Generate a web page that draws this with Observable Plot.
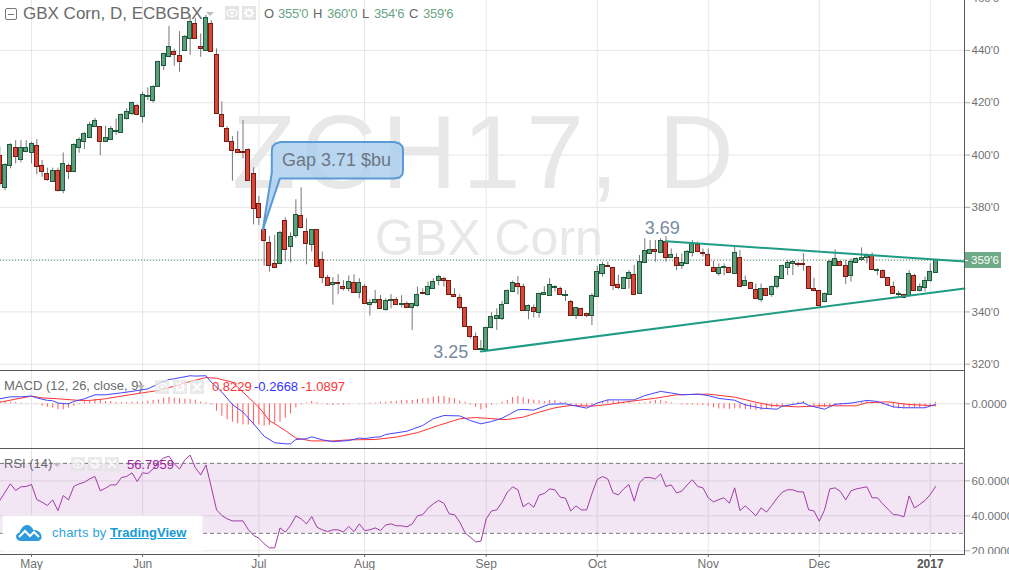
<!DOCTYPE html>
<html><head><meta charset="utf-8">
<script src="https://cdn.jsdelivr.net/npm/d3@7"></script>
<script src="https://cdn.jsdelivr.net/npm/@observablehq/plot@0.6"></script>
<style>
html,body{margin:0;padding:0;background:#fff;overflow:hidden}
#page{position:relative;width:1009px;height:570px;overflow:hidden;font-family:"Liberation Sans",Arial,sans-serif;color:#6a6a6a}
.abs{position:absolute;white-space:pre;line-height:1}
.panel{position:absolute;left:0}
.panel svg{display:block;overflow:hidden}
.line{position:absolute;background:#585858}
.ico{position:absolute;width:14px;height:14px;background:#e4e4e4}
.ico svg{position:absolute;left:0;top:0}
</style></head><body>
<div id="page"></div>
<script>
const opens=[399.8,387.3,395.7,402.7,398.2,401.1,400.8,403.5,395.9,392.8,389.7,393.9,386.4,395.9,393.4,402.7,405,406.6,410.8,410.8,405,405.8,409,408.5,413.8,415.7,418.8,414.6,422.3,420.7,426.1,434.1,437.6,439.5,437.9,439.8,444.4,450.2,441.4,439.8,450.2,438.3,415.4,410,405,402,401.2,402,392.8,381.4,371.4,366.5,358.4,358.4,374.9,364.9,369.1,376.8,370.7,365.7,371.4,359.7,353.1,350.4,351.1,349.6,348.9,351.2,347.3,349.6,342.7,343.5,344.7,340.7,344.1,344.7,342.8,343.1,341.6,342.4,347.4,346.6,348.8,351.9,352.7,351.9,346.6,345.4,341.6,334.3,330.5,325.5,325.3,333.9,337.4,337.4,343.1,347.7,350.7,349.6,340.4,341.6,339.7,346.5,346.2,349.2,348.8,346.1,343.9,338.5,341.2,339.3,338.5,345.8,354.6,357.6,356.9,350.4,348.8,352.7,354.2,346.9,358.8,362.2,363.5,362.6,366.8,360.7,360.7,357.6,358.4,362.6,365.7,362.7,361.8,356.9,354.6,356.7,356.9,354.6,360.7,350,351.1,348.5,344.6,348.8,346.5,349.6,352.7,356.9,358.4,358.4,358.4,357.2,348.8,348.1,343.7,346.5,357.6,359.2,357.6,353.8,358.8,359.7,360.7,361.4,355.7,355.7,353,349.6,346.5,346.5,346.2,353.8,348.1,349.2,351.9,355];
const highs=[403,396.6,404.3,405.5,405.5,405.5,404.9,405.9,397.9,395,395,395,400.8,396.6,404.3,406.6,408.6,412.6,414,410.9,410.9,410.9,413.8,415.7,417.7,420.2,419.3,424,425.7,426.5,435.9,439,449.2,440.4,447.2,445.7,453.4,452.1,446.3,453.4,451.4,440.6,420.3,410.8,407.1,409,413.2,402.4,395.1,384.2,372.2,368.8,369.3,370.8,376,370.3,382.9,387.5,375.6,371.5,371.5,362.9,354,353.1,354.2,352,353.8,354.2,352.7,350.5,344.7,348.2,346.3,345,346.6,345.4,346.2,343.8,343.3,349.5,348.8,351.4,352.7,354,353.3,352,348.8,346.6,341.8,334.4,331.9,329.1,334.2,339.7,341.2,344,348.4,351.8,353.6,350.7,342.7,342.7,347.2,349.7,352.7,350.1,349.5,348.2,344.4,341.8,341.4,339.5,347,357.4,359,359,357.1,354,353.3,355.8,357.8,361.6,368,367.3,367.3,368,368.8,364.1,362.2,362.2,363.5,367.3,366.7,364.1,364.1,359.4,358.4,358.4,357.1,364.8,363.5,353.7,351.4,350.7,350.7,349.1,349.9,353.7,357.9,359.7,359.4,359,362.3,357.5,352.9,348.3,347.2,359.7,363.7,359.4,359.7,360.3,360.7,364.5,362.2,362.6,356.5,356.1,353.3,351.4,347.9,346.8,355.8,354.4,350.7,353.3,358.4,360];
const lows=[387.7,386.4,394.7,396.6,397,400.8,396.6,392.5,391.5,390,389.5,385.8,385.2,390.6,393.2,400.7,402.1,406.3,410.6,399.8,404.8,405.5,407.5,408.2,413.4,415.1,415,412.2,420.8,419.8,426,432.3,437.2,434,431.7,439.6,438.1,444.3,437.4,439.6,439.3,415.5,410.5,404.8,390,400.7,398.5,389.9,373.3,373.1,357.5,355.2,356.5,358,359.1,358.8,368.2,371.8,358,362.9,357,350.8,349.7,342.6,346.6,348,347.6,347,345,343,338.4,343.1,341,340.3,341.2,342.4,341.5,341.3,332.9,341.8,346.6,346.1,348.6,349.9,349.5,346.3,345.6,340.8,334.2,329.7,325.4,325.1,325.1,333.5,332.9,336.7,342.8,347.4,346.5,340.2,337,337.7,337.6,346.3,345.9,347.6,346.3,344,338.3,337.1,338.2,337.7,334.8,345.5,353.3,357,348.2,348.6,348.6,348.7,346.3,346.7,358.5,362,359,362.3,359,360.4,355.8,356.2,358.1,361,362.6,361,357.4,355.1,353.7,353.9,354.7,354.3,349.4,349.7,348.6,344.8,343.7,345.9,345.6,348.8,352.4,353.9,353.9,357.1,355.6,348.6,347.7,342.1,343.5,346.3,357.4,357.4,350.4,351.4,358.5,359.4,358.4,355.8,353.9,352.8,349.7,346.7,345.4,345.1,345.9,347.8,347.6,347.6,351.4,354.75];
const closes=[389,396.2,403.9,399.2,402.7,402.7,404.3,395.3,393.4,390.4,393.9,386.3,396.6,393.4,403.9,405.8,408.1,411.5,413.1,405,406.6,410,409.3,415.4,416.5,420,415.4,423,422.6,426.1,435.6,438.7,441.4,438.3,435.6,445.2,450.9,444.4,440.6,452.5,439.5,415.7,410.8,405,401.6,400.8,400.8,390.2,379.5,376,367.2,357.7,356.9,370.3,363.8,368.7,377.2,372.2,366.1,371.4,357.3,353.1,350,351,350.8,348.9,351.5,347.3,351.2,343.1,343.5,344.7,341.2,344.3,344.5,342.7,343.2,341.6,343.1,346.6,346.9,349.6,351.5,353.4,351.9,346.6,345.8,341.6,334.3,330.5,325.5,325.9,333.9,338.2,338.5,342.7,348.1,351.1,349.6,340.4,342.3,340,346.9,347.3,350.4,349.6,346.5,346.3,338.5,341.6,338.5,338.5,346.2,355.3,358,357.2,350,349.2,353,355,346.5,359.2,363.4,363.7,363.1,367.2,360.7,361.8,357.6,358.8,363,366,363,362.3,357.6,355.3,356.9,357.2,355,362.6,349.6,351.9,348.8,345,348.8,346.2,349.6,353.4,357.6,358.8,359,358,358,348.8,348,342.3,346.9,359.2,360.3,357.6,353.4,359.2,360.3,360.7,361.8,356.1,356.2,353,350,346.9,346.8,345.4,354.6,348.1,349.6,351.9,355.3,359.75];

const macdIdx=[0,2,4,6,7,9,10,11,13,14,16,18,20,23,25,28,30,32,33,36,37,39,40,42,44,46,48,50,52,54,55,56,58,59,61,63,66,68,69,71,72,73,77,80,82,84,87,89,91,93,95,98,99,101,104,107,111,113,115,117,120,122,125,127,129,132,134,136,139,141,144,147,148,152,153,156,158,161,164,166,169,171,175,177];
const macdVal=[2.8,3.9,3.9,4.3,3.3,1.9,1.7,0.4,0,1.3,2.8,5,5,6.1,6.9,8.3,11.1,13.5,13.9,15.6,15.4,15.6,12,6.5,-0.4,-4.6,-11.1,-18,-21.6,-22.2,-22.2,-19.8,-19.4,-18.3,-20,-21,-20.4,-19,-19.3,-18.5,-18.3,-17,-15.2,-12,-8.3,-6.5,-6.7,-9.3,-11.1,-9.8,-8,-3.3,-3.1,-3.5,-0.2,0,-2.4,0.4,2.2,2.2,2.2,4.6,6.9,6,5,5.4,4.6,3,2,-0.6,-2.4,-3,-1.3,0.6,-0.9,-3,-0.2,0.4,1.9,1.3,-1.7,-2.2,-2.2,-0.2668];
const signalIdx=[0,6,8,11,15,17,20,23,27,30,33,36,39,41,44,46,49,51,54,56,59,63,66,71,75,79,83,87,90,92,95,96,99,102,105,108,112,115,119,124,128,134,139,143,146,151,155,162,164,168,172,177];
const signalVal=[0.9,4.3,3.3,2.8,1.9,1.9,2.8,4.3,6.1,7.4,9.8,12.4,14.6,14.2,12,6.5,-1.9,-9.3,-14.8,-19,-20.6,-20.6,-20,-19.8,-18.5,-16,-12,-8.3,-7.6,-8,-8.7,-8.7,-7.4,-4.6,-2.2,-0.9,-1.3,-0.4,1.3,3.1,5,5.4,3.7,0.9,-0.9,-1.7,-1.1,-1.1,0.6,1.1,-0.4,-1.0897];
const histVal=[1.3,1.1,0.9,0.6,0.4,0.2,0,-0.2,-1.3,-1.9,-2.4,-3.3,-3.3,-2.4,-1.3,-0.4,1.1,1.3,2.2,1.9,1.3,1.3,0.7,0.7,0.7,0.9,0.9,0.9,1.5,1.9,2.2,3.1,3.5,3.1,2.8,2.6,2.4,2,0.9,0.6,-0.6,-4.1,-6.9,-8.9,-10.2,-11.1,-11.7,-11.7,-11.7,-11.7,-12.4,-12,-11.1,-10.2,-8,-5.6,-2.2,-0.6,0.4,1.3,0.7,0.2,-0.6,-0.9,-0.7,-0.6,-0.4,0,0.2,0.2,0.4,0.4,0.9,0.9,1.3,1.3,1.7,1.9,1.9,2.4,2.8,3.1,3.7,4.1,4.1,3.3,2.8,1.5,0.9,-0.6,-1.9,-3.3,-2.4,-0.7,-0.2,0.9,1.9,3.5,4.1,3.3,2.4,2,1.7,1.3,1.9,1.7,0.9,0.6,-0.6,-1.3,-1.3,-1.7,-0.9,0.4,1.3,1.9,1.5,1.5,0.9,1.3,0.4,0.4,0.6,1.3,1.9,1.9,1.3,0.6,0,-0.6,-0.7,-0.7,-0.7,-0.9,-1.3,-2.2,-2.8,-2.8,-3.1,-2.8,-2.8,-3.3,-3.3,-3.7,-3.7,-2.8,-2.2,-1.9,-1.3,-0.2,0.6,0.9,1.3,0,-1.3,-2.2,-1.9,-1.9,-0.9,-0.6,-0.2,-0.2,-0.2,0.9,1.3,0.9,0.4,-0.6,-1.3,-2.4,-2.8,-2.8,-2.4,-2.2,-2.2,-1.9,-0.9,0.8229];
const rsiVal=[48.8,53.5,58.3,54.5,56.6,56.8,57.9,49.3,47.8,45.9,49.1,43,51.6,49.1,56.8,58.3,59.2,61.1,62.5,54.3,55.8,57.7,57.7,61.9,62.5,64.6,59.6,64.6,64.2,66.8,70.7,73.1,74.1,69.7,66.8,72,74.7,67.4,63.4,69.1,56.4,43.4,40.2,38.3,37.1,37.1,37.1,32.2,28.8,27.2,24,21.7,21.7,33.1,30.7,34.5,40,38.3,35.4,39.6,33.5,32,31,32,32,30.8,33.9,31,35.4,31.6,32,33.1,31.6,34.8,35.4,34.3,34.3,33.7,35.4,40,40.7,44.4,46.9,48.8,47.2,41.1,40.7,36.4,30.3,27.8,25.1,25.5,38.3,42.8,43.4,47.8,53.5,56.6,54.9,45.1,47.4,44.9,51.8,52.8,55.4,54.9,50.7,50.1,42.8,45.7,43.4,43.4,52.6,60.8,62.5,61.1,53.1,52,55.4,57.9,48.4,58.9,61.9,61.9,61.1,64,56.8,57.7,53.1,54.1,57.7,60.6,56.8,56,50.3,48,49.3,50.3,47.2,56,43,45.7,43,40,44.6,42.1,45.9,50.1,53.5,54.9,54.9,53.7,53.7,43.4,42.8,36.9,43.4,55.4,56,53.9,49.1,54.3,55.4,56,56.6,50.3,50.3,46.9,43.8,40.7,40.5,39.4,51.4,44.5,46.5,48.8,52.2,56.7959];

const monthIdx=[6,27,49,69,92,113,134,155];
const monthLabels=["May","Jun","Jul","Aug","Sep","Oct","Nov","Dec"];
const yearIdx=[176];
const yearLabels=["2017"];
const priceGrid=[320,340,360,380,400,420,440,460];
const priceTicks=[320,340,380,400,420,440,460];
const priceTickLabels=["320'0","340'0","380'0","400'0","420'0","440'0","460'0"];
const lastPrice=359.75;
const lowerTrendIdx=[91,182.47], lowerTrendPrice=[324.9,349];
const upperTrendIdx=[126,182.47], upperTrendPrice=[367,359.3];
const calloutIdx=[49.74,51.45,51.45,51.58,52.15,53.09,74.65,75.6,76.17,76.26,76.26,76.17,75.6,74.65,52.96,49.74];
const calloutPrice=[371.4,393.3,401.7,403.3,404.4,405,405,404.4,403.3,401.7,394.1,392.6,391.4,391,391,371.4];
const noteIdx=[85.3,125.3,63.7];
const notePrice=[324.5,371.9,398];
const noteText=["3.25","3.69","Gap 3.71 $bu"];

const xDomain=[0.132,182.47];
const W=1009, MR=45;
const page=document.getElementById("page");
const UP="#5f9e7d",UPB="#1c5a3a",DN="#d6493a",DNB="#7a1a12",GRID="#e6e6e6",TICK="#707070";
const rows=opens.map((o,i)=>({i,o,h:highs[i],l:lows[i],c:closes[i],up:closes[i]>=o}));
const base=(height,yDomain,marks)=>Plot.plot({width:W,height,marginLeft:0,marginRight:MR,marginTop:0,marginBottom:0,
  style:{background:"transparent",fontFamily:'"Liberation Sans",Arial,sans-serif',overflow:"hidden"},
  x:{domain:xDomain,range:[0,W-MR],axis:null},
  y:{domain:yDomain,range:[height,0],axis:null},marks});
const mount=(svg,top)=>{const d=document.createElement("div");d.className="panel";d.style.top=top+"px";d.appendChild(svg);page.appendChild(d)};
const div=(cls,css,txt)=>{const d=document.createElement("div");d.className=cls;d.style.cssText=css;if(txt!=null)d.textContent=txt;page.appendChild(d);return d};
const yAxis=(ticks,fmt)=>Plot.axisY(ticks,{anchor:"right",label:null,tickSize:5,tickPadding:2,tickFormat:fmt,fontSize:11.5,color:TICK,strokeOpacity:.6});

// watermark behind everything
div("abs","left:232px;top:100px;font-size:104px;letter-spacing:5.6px;color:#e8e8e8","ZCH17, D");
div("abs","left:375px;top:213px;font-size:50px;color:#e8e8e8","GBX Corn");

// main panel
mount(base(370,[317.6,459.1],[
  Plot.gridX(monthIdx.concat(yearIdx),{stroke:GRID,strokeOpacity:1}),
  Plot.gridY(priceGrid,{stroke:GRID,strokeOpacity:1}),
  Plot.ruleY([lastPrice],{stroke:"#3f8a63",strokeOpacity:.85,strokeDasharray:"1,2",strokeWidth:1}),
  Plot.ruleX(rows,{x:"i",y1:"l",y2:"h",stroke:"#777",strokeWidth:1}),
  Plot.rect(rows,{x1:d=>d.i-.38,x2:d=>d.i+.38,y1:d=>Math.min(d.o,d.c),y2:d=>Math.max(d.o,d.c),
    fill:d=>d.up?UP:DN,stroke:d=>d.up?UPB:DNB,strokeWidth:1,shapeRendering:"crispEdges"}),
  Plot.line(lowerTrendIdx.map((x,k)=>[x,lowerTrendPrice[k]]),{x:"0",y:"1",stroke:"#1f9c85",strokeWidth:2}),
  Plot.line(upperTrendIdx.map((x,k)=>[x,upperTrendPrice[k]]),{x:"0",y:"1",stroke:"#1f9c85",strokeWidth:2}),
  Plot.line(calloutIdx.map((x,k)=>[x,calloutPrice[k]]),{x:"0",y:"1",stroke:"#5a9ad6",strokeWidth:2,fill:"#a9cdee",fillOpacity:.8,curve:"linear"}),
  Plot.text([0,1],{x:k=>noteIdx[k],y:k=>notePrice[k],text:k=>noteText[k],fontSize:18,fill:"#788a9e"}),
  Plot.text([2],{x:k=>noteIdx[k],y:k=>notePrice[k],text:k=>noteText[k],fontSize:18,fill:"#6d7680"}),
  yAxis(priceTicks,(d)=>priceTickLabels[priceTicks.indexOf(d)])
]),0);

// MACD panel
const hist=histVal.map((v,i)=>({i,v}));
mount(base(78,[-24.8,18.5],[
  Plot.gridX(monthIdx.concat(yearIdx),{stroke:GRID,strokeOpacity:1}),
  Plot.gridY([0],{stroke:GRID,strokeOpacity:1}),
  Plot.ruleX(hist,{x:"i",y1:0,y2:"v",stroke:"#ff5a5a",strokeWidth:1}),
  Plot.line(signalIdx.map((x,k)=>[x,signalVal[k]]),{x:"0",y:"1",stroke:"#f33",strokeWidth:1}),
  Plot.line(macdIdx.map((x,k)=>[x,macdVal[k]]),{x:"0",y:"1",stroke:"#44f",strokeWidth:1}),
  yAxis([0],d=>"0.0000")
]),370);

// RSI panel
const rsiGrid=[20,40,60];
mount(base(106,[17.9,78.5],[
  Plot.gridX(monthIdx.concat(yearIdx),{stroke:GRID,strokeOpacity:1}),
  Plot.gridY(rsiGrid,{stroke:GRID,strokeOpacity:1}),
  Plot.rect([0],{x1:xDomain[0],x2:xDomain[1],y1:30,y2:70,fill:"#9b3bb0",fillOpacity:.13}),
  Plot.ruleY([30,70],{stroke:"#777",strokeDasharray:"4,3",strokeWidth:1}),
  Plot.line(rsiVal.map((v,i)=>[i,v]),{x:"0",y:"1",stroke:"#a23aa6",strokeWidth:1}),
  yAxis(rsiGrid,d=>d+".0000")
]),448);

// time axis
mount(Plot.plot({width:W,height:16,marginLeft:0,marginRight:MR,marginTop:0,marginBottom:16,
  style:{background:"transparent",fontFamily:'"Liberation Sans",Arial,sans-serif',overflow:"hidden"},
  x:{domain:xDomain,range:[0,W-MR],axis:null},y:{axis:null},
  marks:[
    Plot.axisX(monthIdx,{anchor:"bottom",label:null,tickSize:3,tickPadding:2,fontSize:12,color:TICK,tickFormat:d=>monthLabels[monthIdx.indexOf(d)]}),
    Plot.axisX(yearIdx,{anchor:"bottom",label:null,tickSize:3,tickPadding:2,fontSize:12,color:"#555",fontWeight:"bold",tickFormat:d=>yearLabels[yearIdx.indexOf(d)]})
  ]}),554);
page.lastChild.querySelector("svg").style.overflow="visible";

// frame lines
div("line","left:0;top:370px;width:964px;height:1px");
div("line","left:0;top:448px;width:964px;height:1px");
div("line","left:0;top:554px;width:964px;height:1px");
div("line","left:964px;top:0;width:1px;height:555px");

// price tag
const tag=div("abs","left:965px;top:252px;width:36px;height:16px;background:#6fa985;color:#fff;font-size:11.5px;line-height:16px;text-indent:6px","359'6");
const tagTick=document.createElement("div");tagTick.style.cssText="position:absolute;left:0;top:8px;width:3px;height:1px;background:#fff";tag.appendChild(tagTick);

// header
const EYE='<svg width="14" height="14"><ellipse cx="7" cy="7" rx="5" ry="3.500" fill="none" stroke="#fff" stroke-width="1.300"/><circle cx="7" cy="7" r="1.600" fill="#fff"/></svg>';
const GEAR='<svg width="14" height="14"><circle cx="7" cy="7" r="3" fill="none" stroke="#fff" stroke-width="2"/><path d="M7 1.500V3.500M7 10.500V12.500M1.500 7H3.500M10.500 7H12.500M3 3L4.500 4.500M9.500 9.500L11 11M11 3L9.500 4.500M4.500 9.500L3 11" stroke="#fff" stroke-width="1.300"/></svg>';
const CROSS='<svg width="14" height="14"><path d="M3 3L11 11M11 3L3 11" stroke="#fff" stroke-width="1.800"/></svg>';
const icon=(x,y,svg,extra)=>{div("ico",`left:${x}px;top:${y}px;${extra||""}`).innerHTML=svg};
const box=div("abs","left:5px;top:8px;width:10px;height:10px;border:1px solid #777;border-radius:2px");
const dash=document.createElement("div");dash.style.cssText="position:absolute;left:2px;top:5px;width:6px;height:1px;background:#777";box.appendChild(dash);
div("abs","left:23px;top:5px;font-size:17px;color:#6a6a6a","GBX Corn, D, ECBGBX");
const caret=(x,y)=>div("abs",`left:${x}px;top:${y}px;width:0;height:0;border-left:4px solid transparent;border-right:4px solid transparent;border-top:4px solid #bbb`);
caret(206,12);
icon(225,6,EYE);icon(242,6,GEAR);
[["O",264,"#666"],["355'0",278,"#6aa583"],["H",313,"#666"],["360'0",327,"#6aa583"],["L",362,"#666"],["354'6",374,"#6aa583"],["C",409,"#666"],["359'6",423,"#6aa583"]]
  .forEach(([t,x,c])=>div("abs",`left:${x}px;top:7px;font-size:13px;letter-spacing:-.2px;color:${c}`,t));

// MACD legend
div("abs","left:4px;top:379px;font-size:13px;color:#6a6a6a","MACD (12, 26, close, 9)");
caret(137,385);
icon(155,380,EYE,"opacity:.75");icon(173,380,GEAR,"opacity:.75");icon(190,380,CROSS,"opacity:.75");
[["0.8229",212,"#f33"],["-0.2668",254,"#33f"],["-1.0897",301,"#f33"]]
  .forEach(([t,x,c])=>div("abs",`left:${x}px;top:380px;font-size:13px;color:${c}`,t));

// RSI legend
div("abs","left:4px;top:457px;font-size:13px;color:#6a6a6a","RSI (14)");
caret(53,463);
icon(71,457,EYE,"opacity:.75");icon(88,457,GEAR,"opacity:.75");icon(105,457,CROSS,"opacity:.75");
div("abs","left:127px;top:458px;font-size:13px;color:#a020a0","56.7959");

// logo
const logo=div("abs","left:3px;top:516px;width:199px;height:35px;background:#fff;box-shadow:0 0 3px rgba(255,255,255,.9)");
logo.innerHTML='<svg style="position:absolute;left:13px;top:9px" width="26" height="16" viewBox="0 0 26 16"><path d="M5 16C2 16 0 14 0 11.500 0 9.500 1.500 8 3.500 7.500 5 3 8 0 11 0 14 0 16 2 17.500 5 21 4.500 25 7 25.500 11 26 14 24 16 21 16Z" fill="#2f9bdc"/><path d="M3 12L9 6 14 11 18 7 23 12" fill="none" stroke="#fff" stroke-width="2"/></svg>'
 +'<span style="position:absolute;left:49px;top:10px;font-size:13px;color:#2ea3dd;letter-spacing:.2px">charts by</span>'
 +'<span style="position:absolute;left:107px;top:10px;font-size:13px;font-weight:bold;color:#169bd5;text-decoration:underline">TradingView</span>';
</script>
</body></html>
